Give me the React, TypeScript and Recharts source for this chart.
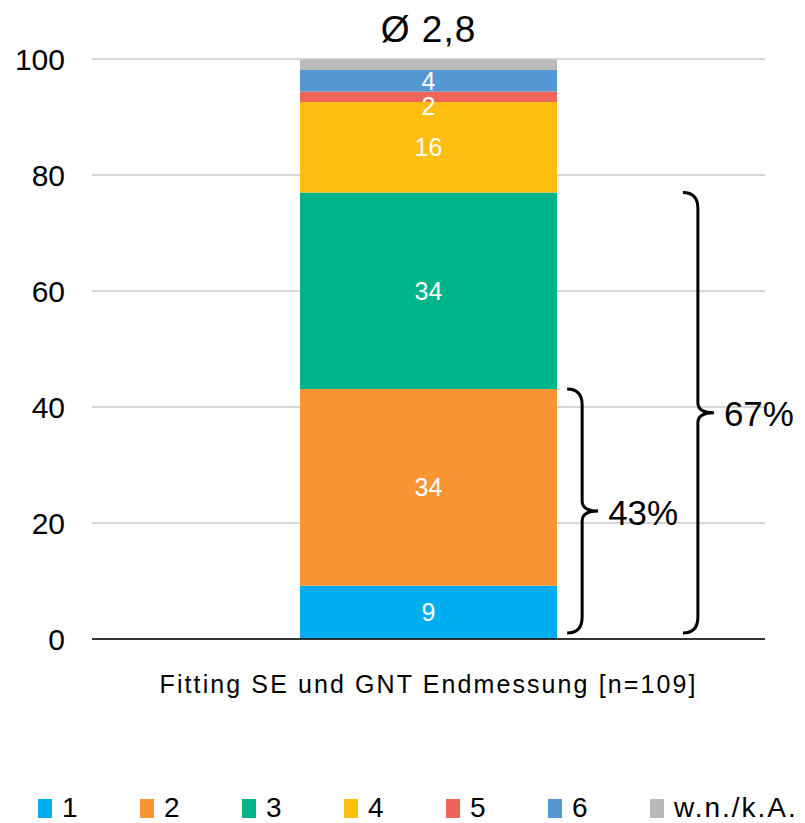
import React from "react";
import {
  BarChart,
  Bar,
  XAxis,
  YAxis,
  CartesianGrid,
  LabelList,
  Legend,
  ReferenceArea,
} from "recharts";

const categories = ["Fitting SE und GNT Endmessung [n=109]"];
const seriesNames = ["1", "2", "3", "4", "5", "6", "w.n./k.A."];
const seriesValues = [9.2, 33.9, 33.9, 15.6, 1.8, 3.7, 1.8];
const seriesColors = ["#00AEEF", "#F79433", "#00B48A", "#FDBE12", "#F0645A", "#5497D3", "#BABABA"];
const yTicks = [0, 20, 40, 60, 80, 100];
const averageLabel = "Ø 2,8";
const braceGroups = [2, 3];
const braceLabels = ["43%", "67%"];

const FONT = "'Liberation Sans', Arial, sans-serif";

const data = categories.map((name) => {
  const row: Record<string, number | string> = { name };
  seriesValues.forEach((v, i) => (row[`s${i}`] = v));
  return row;
});

const braceTops = braceGroups.map((n) => seriesValues.slice(0, n).reduce((a, b) => a + b, 0));

const makeBrace = (offsetFrac: number, label: string) => (props: any) => {
  const { x, y, width, height } = props;
  const x0 = x + width * offsetFrac;
  const top = y;
  const bottom = y + height - 6;
  const mid = (top + bottom) / 2;
  const xv = x0 + 15;
  const xt = x0 + 31;
  const r = 16;
  const m = 10;
  const d = `M${x0},${top} Q${xv},${top} ${xv},${top + r} L${xv},${mid - m} Q${xv},${mid} ${xt},${mid} Q${xv},${mid} ${xv},${mid + m} L${xv},${bottom - r} Q${xv},${bottom} ${x0},${bottom}`;
  return (
    <g>
      <path d={d} fill="none" stroke="#000" strokeWidth={3} />
      <text x={xt + 10} y={mid + 1} dominantBaseline="central" fontSize={35} fontFamily={FONT} fill="#000">
        {label}
      </text>
    </g>
  );
};

const renderLegend = () => (
  <div style={{ height: 0, overflow: "visible" }}>
    <div style={{ display: "flex", paddingLeft: 38, fontFamily: FONT }}>
      {seriesNames.map((n, i) => (
        <div key={n} style={{ width: 102, display: "flex", alignItems: "center", flexShrink: 0 }}>
          <span style={{ width: 14, height: 19, background: seriesColors[i], marginRight: 10, flexShrink: 0 }} />
          <span style={{ fontSize: 28, letterSpacing: 2, color: "#000", whiteSpace: "nowrap", lineHeight: "32px" }}>{n}</span>
        </div>
      ))}
    </div>
  </div>
);

const renderAverage = (props: any) => {
  const { x, y, width } = props;
  return (
    <text x={x + width / 2} y={y - 30} textAnchor="middle" dominantBaseline="central" fontSize={37} letterSpacing={1} fontFamily={FONT} fill="#000">
      {averageLabel}
    </text>
  );
};

export default function App() {
  return (
    <div style={{ position: "absolute", left: 0, top: 0, fontFamily: FONT }}>
      <BarChart
        width={805}
        height={823}
        data={data}
        margin={{ top: 59, right: 40, bottom: 0, left: 12 }}
        barSize={257}
      >
        <CartesianGrid vertical={false} stroke="#C8C8C8" strokeWidth={1.5} />
        <XAxis
          dataKey="name"
          tickLine={false}
          tickSize={0}
          tickMargin={36}
          height={184}
          axisLine={{ stroke: "#000", strokeWidth: 1.5 }}
          tick={{ fontSize: 25, fill: "#000", fontFamily: FONT, letterSpacing: 2.1 }}
        />
        <YAxis
          width={80}
          domain={[0, 100]}
          ticks={yTicks}
          axisLine={false}
          tickLine={false}
          tickSize={0}
          tickMargin={27}
          tick={{ fontSize: 30, fill: "#000", fontFamily: FONT }}
        />
        {braceTops.map((t, i) => (
          <ReferenceArea
            key={i}
            y1={0}
            y2={t}
            fill="none"
            shape={makeBrace(i === 0 ? 0.706 : 0.878, braceLabels[i])}
          />
        ))}
        {seriesNames.map((n, i) => (
          <Bar
            key={n}
            dataKey={`s${i}`}
            name={n}
            stackId="a"
            fill={seriesColors[i]}
            isAnimationActive={false}
          >
            {i < seriesNames.length - 1 && (
              <LabelList
                dataKey={`s${i}`}
                position="center"
                fill="#fff"
                fontSize={25}
                fontFamily={FONT}
                dy={i === 4 ? 9 : 0}
                formatter={(v: any) => Math.round(Number(v))}
              />
            )}
            {i === seriesNames.length - 1 && <LabelList dataKey={`s${i}`} content={renderAverage} />}
          </Bar>
        ))}
        <Legend content={renderLegend} wrapperStyle={{ left: 0, top: 792, width: 805 }} />
      </BarChart>
    </div>
  );
}
